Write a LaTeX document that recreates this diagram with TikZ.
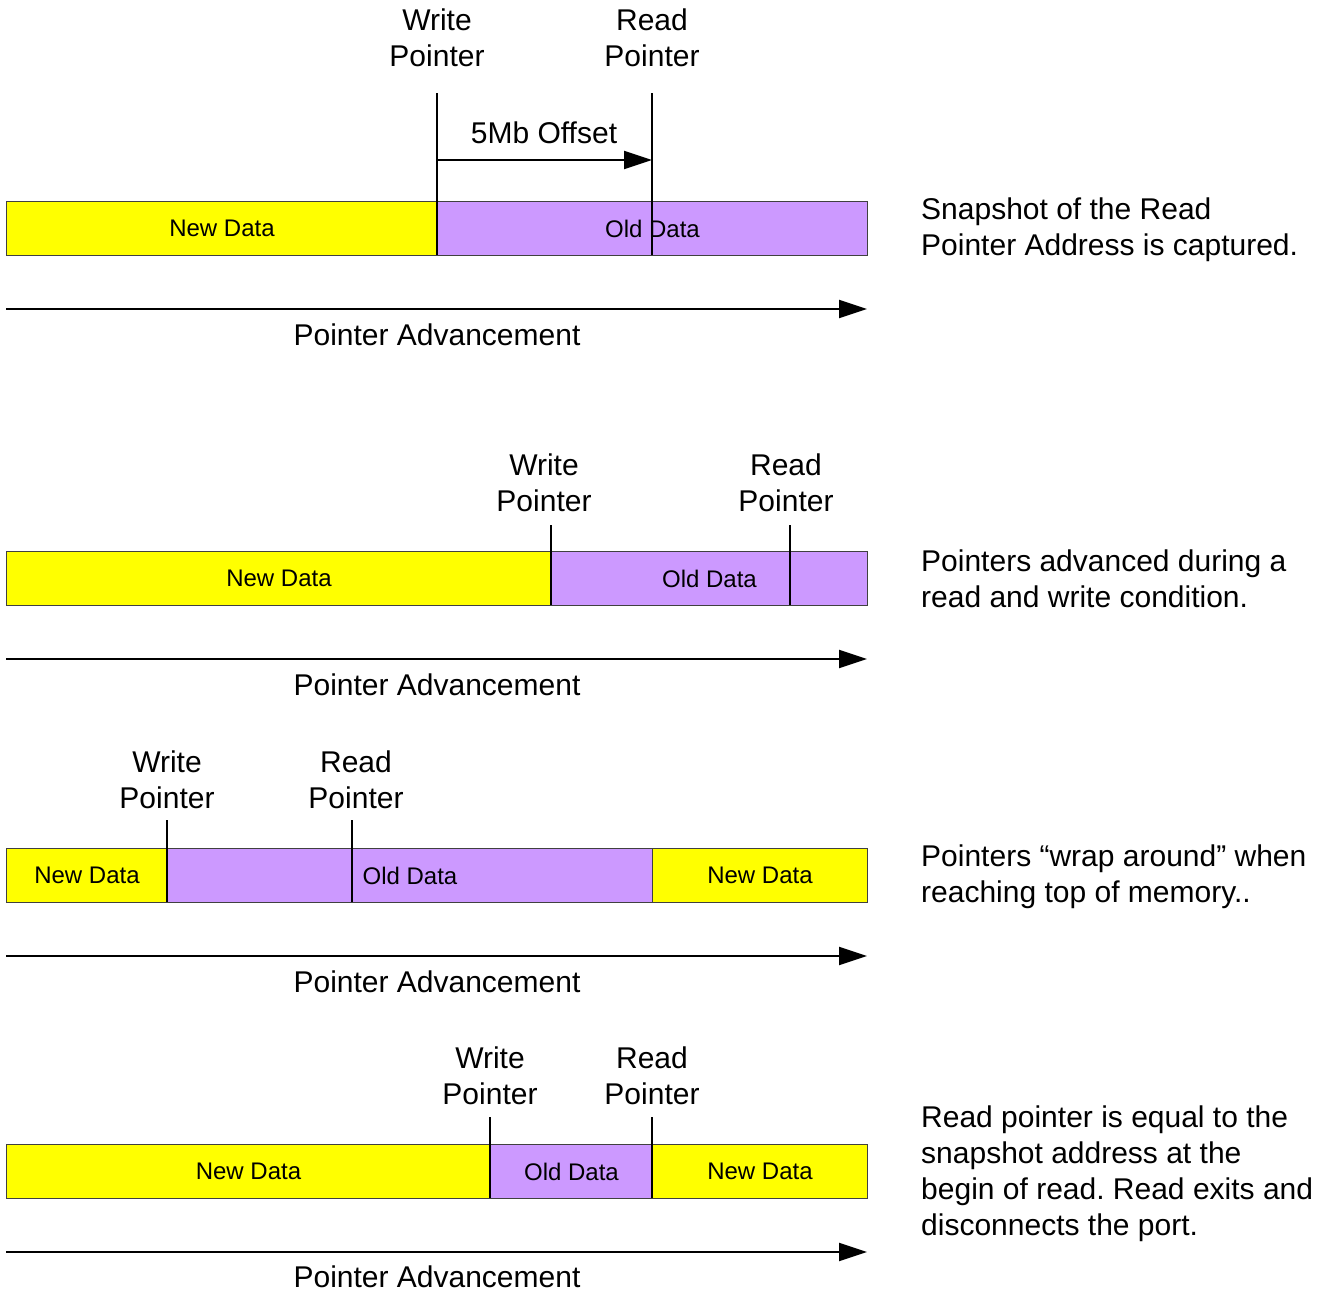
\documentclass[tikz,border=0pt]{standalone}
\usepackage{fontspec}
\setmainfont{Liberation Sans}
\usetikzlibrary{arrows.meta}
\definecolor{newc}{HTML}{FFFF00}
\definecolor{oldc}{HTML}{CC99FF}
\definecolor{edgec}{HTML}{404040}
\frenchspacing
\begin{document}
\begin{tikzpicture}[x=1pt,y=-1pt,
 seg/.style={draw=edgec, line width=1pt, inner sep=0pt, minimum height=54pt, anchor=north west, font=\fontsize{24}{28}\selectfont},
 newseg/.style={seg, fill=newc},
 oldseg/.style={seg, fill=oldc},
 lbl/.style={align=center, font=\fontsize{30}{36}\selectfont, inner sep=0pt},
 note/.style={align=left, anchor=west, font=\fontsize{30}{36}\selectfont, inner sep=0pt},
 ptr/.style={line width=2pt},
 adv/.style={line width=2pt, -{Triangle[length=28pt,width=18pt]}}]
\useasboundingbox (0,0) rectangle (1325,1291);

% ---------- Section 1 ----------
\node[newseg, minimum width=431pt] (s1a) at (6,201) {New Data};
\node[oldseg, minimum width=430pt] (s1b) at (437,201) {Old Data};
\coordinate (w1t) at (437,93); \coordinate (w1b) at (437,255);
\coordinate (r1t) at (652,93); \coordinate (r1b) at (652,255);
\draw[ptr] (w1t) -- (w1b);
\draw[ptr] (r1t) -- (r1b);
\coordinate (o1s) at (437,160); \coordinate (o1e) at (652,160);
\draw[adv] (o1s) -- (o1e);
\node[lbl] (o1l) at (544,133) {5Mb Offset};
\node[lbl] (w1l) at (437,38) {Write\\Pointer};
\node[lbl] (r1l) at (652,38) {Read\\Pointer};
\coordinate (a1s) at (6,309); \coordinate (a1e) at (867,309);
\draw[adv] (a1s) -- (a1e);
\node[lbl] (a1l) at (437,335) {Pointer Advancement};
\node[note] (n1) at (921,230) {Snapshot of the Read\\Pointer Address is captured.};

% ---------- Section 2 ----------
\node[newseg, minimum width=545pt] (s2a) at (6,551) {New Data};
\node[oldseg, minimum width=316pt] (s2b) at (551,551) {Old Data};
\coordinate (w2t) at (551,525); \coordinate (w2b) at (551,605);
\coordinate (r2t) at (790,525); \coordinate (r2b) at (790,605);
\draw[ptr] (w2t) -- (w2b);
\draw[ptr] (r2t) -- (r2b);
\node[lbl] (w2l) at (544,483) {Write\\Pointer};
\node[lbl] (r2l) at (786,483) {Read\\Pointer};
\coordinate (a2s) at (6,659); \coordinate (a2e) at (867,659);
\draw[adv] (a2s) -- (a2e);
\node[lbl] (a2l) at (437,685) {Pointer Advancement};
\node[note] (n2) at (921,579) {Pointers advanced during a\\read and write condition.};

% ---------- Section 3 ----------
\node[newseg, minimum width=161pt] (s3a) at (6,848) {New Data};
\node[oldseg, minimum width=485pt] (s3b) at (167,848) {Old Data};
\node[newseg, minimum width=215pt] (s3c) at (652,848) {New Data};
\coordinate (w3t) at (167,820); \coordinate (w3b) at (167,902);
\coordinate (r3t) at (352,820); \coordinate (r3b) at (352,902);
\draw[ptr] (w3t) -- (w3b);
\draw[ptr] (r3t) -- (r3b);
\node[lbl] (w3l) at (167,780) {Write\\Pointer};
\node[lbl] (r3l) at (356,780) {Read\\Pointer};
\coordinate (a3s) at (6,956); \coordinate (a3e) at (867,956);
\draw[adv] (a3s) -- (a3e);
\node[lbl] (a3l) at (437,982) {Pointer Advancement};
\node[note] (n3) at (921,877) {Pointers “wrap around” when\\reaching top of memory..};

% ---------- Section 4 ----------
\node[newseg, minimum width=484pt] (s4a) at (6,1144) {New Data};
\node[oldseg, minimum width=162pt] (s4b) at (490,1144) {Old Data};
\node[newseg, minimum width=215pt] (s4c) at (652,1144) {New Data};
\coordinate (w4t) at (490,1117); \coordinate (w4b) at (490,1198);
\coordinate (r4t) at (652,1117); \coordinate (r4b) at (652,1198);
\draw[ptr] (w4t) -- (w4b);
\draw[ptr] (r4t) -- (r4b);
\node[lbl] (w4l) at (490,1076) {Write\\Pointer};
\node[lbl] (r4l) at (652,1076) {Read\\Pointer};
\coordinate (a4s) at (6,1252); \coordinate (a4e) at (867,1252);
\draw[adv] (a4s) -- (a4e);
\node[lbl] (a4l) at (437,1277) {Pointer Advancement};
\node[note] (n4) at (921,1174) {Read pointer is equal to the\\snapshot address at the\\begin of read. Read exits and\\disconnects the port.};
\end{tikzpicture}
\end{document}
